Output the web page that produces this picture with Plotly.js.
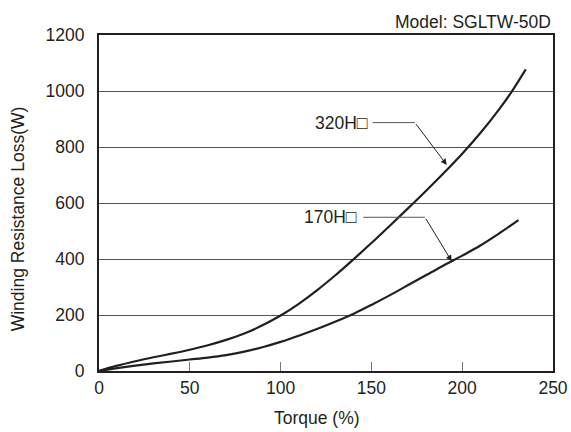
<!DOCTYPE html>
<html>
<head>
<meta charset="utf-8">
<script src="https://cdn.plot.ly/plotly-3.0.1.min.js"></script>
<style>html,body{margin:0;padding:0;background:#fff;}#chart{width:571px;height:432px;}</style>
</head>
<body>
<div id="chart"></div>
<script>
// Data
const torque320 = [0, 10, 20, 30, 40, 50, 60, 70, 80, 90, 100, 110, 120, 130, 140, 150, 160, 170, 180, 190, 200, 210, 220, 227, 235];
const loss320   = [0, 19, 35, 49, 62, 76, 92, 111, 134, 163, 198, 240, 288, 341, 398, 457, 518, 580, 643, 708, 776, 850, 932, 995, 1077];
const torque170 = [0, 10, 20, 30, 40, 50, 60, 70, 80, 90, 100, 110, 120, 130, 140, 150, 160, 170, 180, 190, 200, 210, 220, 231];
const loss170   = [0, 10, 19, 27, 34, 41, 48, 57, 69, 85, 104, 126, 150, 176, 204, 236, 270, 306, 342, 378, 412, 448, 490, 539];
const seriesNames = ['320H\u25A1', '170H\u25A1'];
const yTicks = [0, 200, 400, 600, 800, 1000, 1200];
const xTicks = [0, 50, 100, 150, 200, 250];

const ink = '#231f20';
const font = {family: 'Liberation Sans, Arial, Helvetica, sans-serif', size: 17.5, color: ink};

const traces = [
  {x: torque320, y: loss320, name: seriesNames[0], mode: 'lines', line: {color: ink, width: 2.2, shape: 'spline', smoothing: 1}, hoverinfo: 'skip'},
  {x: torque170, y: loss170, name: seriesNames[1], mode: 'lines', line: {color: ink, width: 2.2, shape: 'spline', smoothing: 1}, hoverinfo: 'skip'}
];

const layout = {
  width: 571, height: 432,
  margin: {l: 99, r: 18, t: 35, b: 61, pad: 0},
  paper_bgcolor: '#fff', plot_bgcolor: '#fff',
  showlegend: false,
  font: font,
  xaxis: {
    range: [0, 250], tickvals: xTicks, ticktext: xTicks.map(String),
    ticks: 'inside', ticklen: 9, tickwidth: 1, tickcolor: '#777',
    showgrid: false, zeroline: false,
    showline: true, mirror: true, linewidth: 2, linecolor: ink,
    tickfont: font, ticklabelstandoff: 0
  },
  yaxis: {
    range: [0, 1200], tickvals: yTicks, ticktext: yTicks.map(String),
    ticks: '', showgrid: true, gridcolor: '#555', gridwidth: 1,
    zeroline: false,
    showline: true, mirror: true, linewidth: 2, linecolor: ink,
    tickfont: font, ticklabelstandoff: 9
  },
  shapes: [
    {type: 'line', xref: 'x', yref: 'y', x0: 150.7, x1: 174, y0: 887, y1: 887, line: {color: '#555', width: 1}},
    {type: 'line', xref: 'x', yref: 'y', x0: 145.5, x1: 179.5, y0: 549, y1: 549, line: {color: '#555', width: 1}}
  ],
  annotations: [
    {text: 'Model: SGLTW-50D', xref: 'paper', yref: 'paper', x: 1, y: 1.04, xanchor: 'right', yanchor: 'middle', showarrow: false, font: font},
    {text: 'Winding Resistance Loss(W)', xref: 'paper', yref: 'paper', x: -0.178, y: 0.452, xanchor: 'center', yanchor: 'middle', textangle: -90, showarrow: false, font: font},
    {text: 'Torque (%)', xref: 'paper', yref: 'paper', x: 0.481, y: -0.14, xanchor: 'center', yanchor: 'middle', showarrow: false, font: font},
    {text: seriesNames[0], xref: 'x', yref: 'y', x: 149, y: 887, xanchor: 'right', yanchor: 'middle', showarrow: false, font: font},
    {text: seriesNames[1], xref: 'x', yref: 'y', x: 143.3, y: 549, xanchor: 'right', yanchor: 'middle', showarrow: false, font: font},
    {text: '', xref: 'x', yref: 'y', x: 191.5, y: 736, axref: 'x', ayref: 'y', ax: 174, ay: 887, showarrow: true, arrowhead: 2, arrowsize: 1.2, arrowwidth: 1, arrowcolor: ink},
    {text: '', xref: 'x', yref: 'y', x: 194.2, y: 392, axref: 'x', ayref: 'y', ax: 179.5, ay: 549, showarrow: true, arrowhead: 2, arrowsize: 1.2, arrowwidth: 1, arrowcolor: ink}
  ]
};

Plotly.newPlot('chart', traces, layout, {staticPlot: true, displayModeBar: false});
</script>
</body>
</html>
